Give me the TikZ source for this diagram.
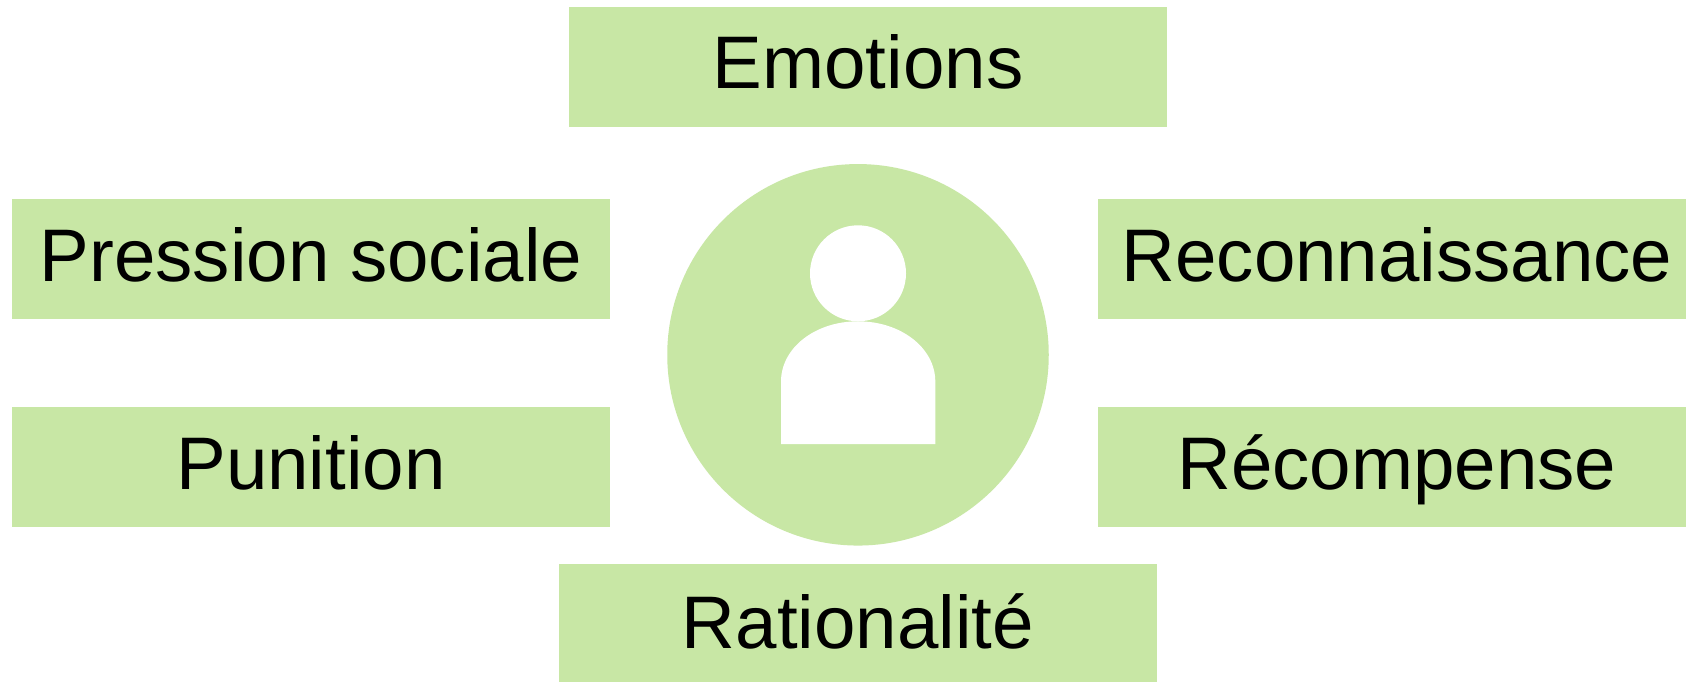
\documentclass[tikz,border=0pt]{standalone}
\usepackage{fontspec}
\setmainfont{Liberation Sans}
\definecolor{boxgreen}{RGB}{200,231,165}
\tikzset{
  label box/.style={fill=boxgreen,draw=none,minimum width=598pt,minimum height=120pt,inner sep=0pt,font=\fontsize{74.5}{75}\selectfont,text=black,anchor=center,text height=44pt,text depth=0pt},
  figure part/.style={fill=white,draw=none}
}
\begin{document}
\begin{tikzpicture}[x=1pt,y=-1pt]
\useasboundingbox (0,0) rectangle (1686,682);
\fill[white] (0,0) rectangle (1686,682);
\node[label box] (emotions) at (868,67) {Emotions};
\node[label box] (pression) at (311,259) {Pression sociale};
\node[label box] (punition) at (311,467) {Punition};
\node[label box] (reconnaissance) at (1397,259) {Reconnaissance};
\node[label box] (recompense) at (1397,467) {Récompense};
\node[label box,minimum height=118pt,text height=52pt] (rationalite) at (858,622.5) {Rationalité};
\node[circle,fill=boxgreen,draw=none,minimum size=381.5pt,inner sep=0pt] (person) at (858,354.8) {};
\node[circle,figure part,minimum size=96pt,inner sep=0pt] (head) at (858,273.3) {};
\fill[figure part] (781,444) -- (781,381.5) .. controls (781,348) and (815,321.3) .. (858,321.3) .. controls (901,321.3) and (935.3,348) .. (935.3,381.5) -- (935.3,444) -- cycle;
\end{tikzpicture}
\end{document}
